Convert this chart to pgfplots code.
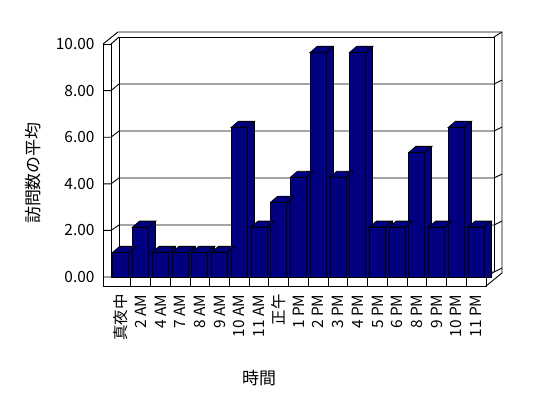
\documentclass[border=0pt]{standalone}
\usepackage{fontspec}
\setmainfont{Noto Sans CJK JP}
\usepackage{pgfplots}
\usepackage{pgfplotstable}
\pgfplotsset{compat=1.18}
\definecolor{navybar}{RGB}{0,0,128}

\pgfdeclareplotmark{bartop}{%
  \pgfpathmoveto{\pgfqpoint{-8bp}{0bp}}%
  \pgfpathlineto{\pgfqpoint{8bp}{0bp}}%
  \pgfpathlineto{\pgfqpoint{15bp}{6bp}}%
  \pgfpathlineto{\pgfqpoint{-1bp}{6bp}}%
  \pgfpathclose
  \pgfusepathqfillstroke}

\pgfplotstableread{
x v
0 1.06
1 2.14
2 1.06
3 1.06
4 1.06
5 1.06
6 6.42
7 2.14
8 3.21
9 4.28
10 9.64
11 4.28
12 9.64
13 2.14
14 2.14
15 5.35
16 2.14
17 6.42
18 2.14
}\visits

\begin{document}
\begin{tikzpicture}[x=1bp,y=1bp]
\useasboundingbox (0,0) rectangle (548,398);
\begin{scope}[line width=0.9bp, black]
  % back wall
  \draw (119,126) -- (119,361) -- (494,361) -- (494,126);
  \draw (103,354) -- (118,366) -- (502,366) -- (502,125);
  \draw (494,361) -- (502,366);
  \draw (111,354) -- (119,361);
  % left wall front face
  \draw (103,112) -- (103,354) -- (111,354) -- (111,121);
  % gridlines
  \foreach \v in {0,2,4,6,8} {
    \draw (103,121+23.3*\v) -- (111,121+23.3*\v) -- (119,126+23.5*\v);
    \draw (119,126+23.5*\v) -- (494,126+23.5*\v) -- (502,130+23.5*\v);
  }
  % floor
  \draw (111,121) -- (486,121) -- (486,112) -- (103,112);
  \draw (486,121) -- (494,126);
  \draw (486,112) -- (502,125);
  \foreach \k in {1,...,18} \draw (111+19.737*\k,121) -- (111+19.737*\k,112);
\end{scope}
\begin{axis}[
  at={(111bp,121bp)}, anchor=south west,
  scale only axis, width=375bp, height=233bp,
  xmin=-0.5, xmax=18.5, ymin=0, ymax=10,
  clip=false,
  axis line style={draw=none},
  major tick length=0pt,
  xtick={0,...,18},
  xticklabels={真夜中,2 AM,4 AM,7 AM,8 AM,9 AM,10 AM,11 AM,正午,1 PM,2 PM,3 PM,4 PM,5 PM,6 PM,8 PM,9 PM,10 PM,11 PM},
  xticklabel style={rotate=90, anchor=east, font=\fontsize{15.5}{17}\selectfont},
  xticklabel shift=14bp,
  ytick={0,2,...,10},
  /pgf/number format/assume math mode=true,
  yticklabel style={/pgf/number format/.cd, fixed, fixed zerofill, precision=2, /tikz/.cd, font=\fontsize{15.5}{17}\selectfont},
  yticklabel shift=13bp,
  xlabel={時間}, ylabel={訪問数の平均},
  xlabel style={at={(axis description cs:0.395,-0.433)}, anchor=center, font=\fontsize{17}{19}\selectfont},
  ylabel style={at={(axis description cs:-0.208,0.446)}, anchor=center, font=\fontsize{17}{19}\selectfont},
]
\addplot[ybar, bar width=7bp, bar shift=11.5bp, fill=navybar, draw=black, line width=0.9bp, y filter/.expression={y+0.2575}] table[x=x,y=v]{\visits};
\addplot[only marks, mark=bartop, mark options={fill=navybar, draw=black, line width=0.9bp}] table[x=x,y=v]{\visits};
\addplot[ybar, bar width=16bp, bar shift=0bp, fill=navybar, draw=black, line width=0.9bp] table[x=x,y=v]{\visits};
\end{axis}
\end{tikzpicture}
\end{document}
